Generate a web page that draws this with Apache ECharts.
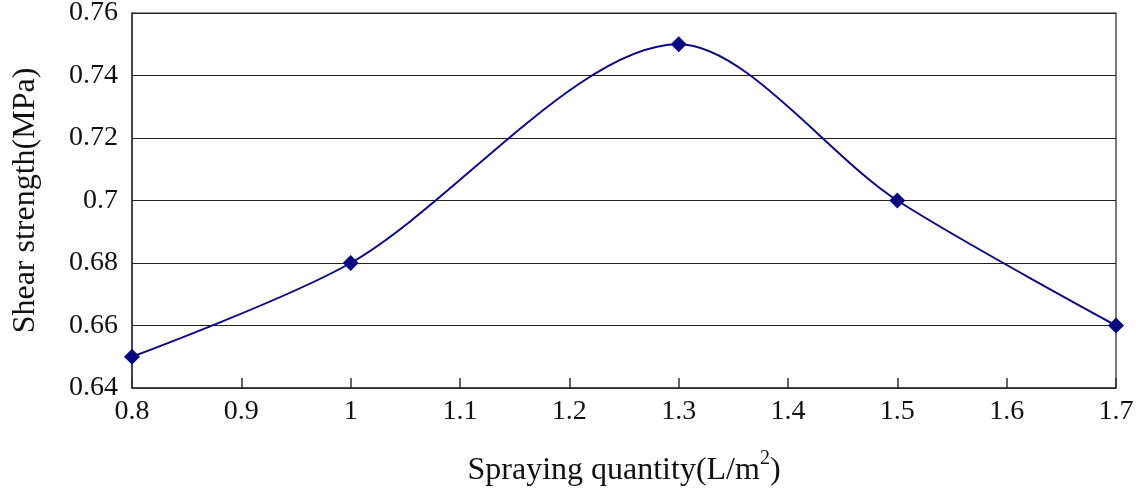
<!DOCTYPE html>
<html><head><meta charset="utf-8">
<script src="https://cdn.jsdelivr.net/npm/echarts@6/dist/echarts.min.js"></script>
<style>html,body{margin:0;padding:0;background:#fff}#c{width:1136px;height:492px}</style>
</head><body><div id="c"></div>
<script>
const xValues = [0.8, 1.0, 1.3, 1.5, 1.7];
const yValues = [0.65, 0.68, 0.75, 0.70, 0.66];
const xTitle = 'Spraying quantity(L/m';
const yTitle = 'Shear strength(MPa)';
const font = '"Liberation Serif", "Times New Roman", serif';
const chart = echarts.init(document.getElementById('c'));
chart.setOption({
  animation: false,
  grid: {left: 132, right: 20, top: 13, bottom: 104, show: true, borderColor: '#222', borderWidth: 1.2, outerBoundsMode: 'none', containLabel: false},
  xAxis: {
    type: 'value', min: 0.8, max: 1.7, interval: 0.1,
    name: '{t|' + xTitle + '}{s|2}{t|)}', nameLocation: 'middle', nameGap: 61,
    nameTextStyle: {rich: {t: {fontFamily: font, fontSize: 32, color: '#111', verticalAlign: 'bottom', lineHeight: 38}, s: {fontFamily: font, fontSize: 20, color: '#111', verticalAlign: 'top', padding: [0,0,18,0], lineHeight: 38}}},
    axisLine: {lineStyle: {color: '#333', width: 1.5}},
    axisTick: {inside: true, length: 10, lineStyle: {color: '#333', width: 1.5}},
    splitLine: {show: false},
    axisLabel: {fontFamily: font, fontSize: 28, color: '#111', margin: 10, formatter: v => String(Math.round(v*10)/10)}
  },
  yAxis: {
    type: 'value', min: 0.64, max: 0.76, interval: 0.02,
    name: yTitle, nameLocation: 'middle', nameGap: 90,
    nameTextStyle: {fontFamily: font, fontSize: 32, color: '#111'},
    axisLine: {show: true, lineStyle: {color: '#333', width: 1.5}},
    axisTick: {show: false},
    splitLine: {lineStyle: {color: '#222', width: 1.2}},
    axisLabel: {fontFamily: font, fontSize: 28, color: '#111', margin: 14, formatter: v => String(Math.round(v*100)/100)}
  },
  series: [{
    type: 'line', data: xValues.map((x, i) => [x, yValues[i]]),
    smooth: 0.3, symbol: 'diamond', symbolSize: 16,
    lineStyle: {color: '#0a0a80', width: 2},
    itemStyle: {color: '#0a0a80'}
  }]
});
</script></body></html>
